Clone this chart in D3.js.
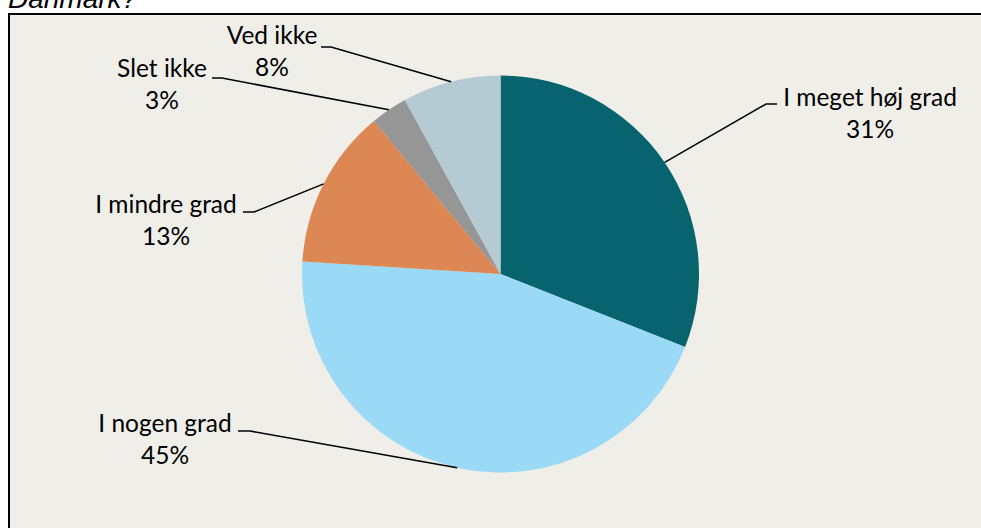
<!DOCTYPE html>
<html><head><meta charset="utf-8">
<script src="https://cdn.jsdelivr.net/npm/d3@7"></script>
<style>
html,body{margin:0;padding:0;background:#fff;}
svg{display:block;}
</style></head>
<body>
<svg id="chart" width="981" height="528"></svg>
<script>
// ---- data ----
const categories = ["I meget høj grad", "I nogen grad", "I mindre grad", "Slet ikke", "Ved ikke"];
const values = [31, 45, 13, 3, 8];
const valueLabels = ["31%", "45%", "13%", "3%", "8%"];
const colors = ["#07646f", "#9bdaf7", "#dd8755", "#969696", "#b4cbd3"];

// ---- layout (label anchor, elbow, horizontal end) ----
const labelLayout = [
  {tx: 870, ty: 106, elbow: [766, 104], end: [777, 104]},
  {tx: 165, ty: 432, elbow: [250, 431], end: [238, 431]},
  {tx: 166, ty: 213, elbow: [254, 212], end: [243, 212]},
  {tx: 162, ty: 77,  elbow: [222, 78],  end: [212, 78]},
  {tx: 272, ty: 44,  elbow: [331, 47],  end: [321, 47]}
];

const svg = d3.select("#chart");
const W = 981, H = 528;

// title (cropped at the top edge, as in the reference)
svg.append("text").attr("x", 8).attr("y", 8)
  .attr("font-family", "Liberation Sans, Arial, sans-serif")
  .attr("font-style", "italic").attr("font-size", 28).attr("fill", "#000")
  .text("Danmark?");

// chart frame
svg.append("rect").attr("x", 9).attr("y", 14).attr("width", W + 10).attr("height", H)
  .attr("fill", "#efeee8").attr("stroke", "#000").attr("stroke-width", 2);

const cx = 500.5, cy = 274, r = 198.5;
const g = svg.append("g").attr("transform", `translate(${cx},${cy})`);

const data = categories.map((c, i) => ({cat: c, value: values[i], lab: valueLabels[i], color: colors[i], lay: labelLayout[i]}));
const pie = d3.pie().value(d => d.value).sort(null);
const arc = d3.arc().innerRadius(0).outerRadius(r);
const arcs = pie(data);

g.selectAll("path.slice").data(arcs).enter().append("path")
  .attr("class", "slice")
  .attr("d", arc)
  .attr("fill", d => d.data.color);

// leader lines
svg.selectAll("polyline.leader").data(arcs).enter().append("polyline")
  .attr("class", "leader")
  .attr("fill", "none").attr("stroke", "#000").attr("stroke-width", 1.6)
  .attr("points", d => {
    const a = (d.startAngle + d.endAngle) / 2;
    const p = [cx + r * Math.sin(a), cy - r * Math.cos(a)];
    return [p, d.data.lay.elbow, d.data.lay.end].map(q => q.join(",")).join(" ");
  });

// labels
const labs = svg.selectAll("text.lab").data(arcs).enter().append("text")
  .attr("class", "lab")
  .attr("text-anchor", "middle")
  .attr("font-family", "Lato, 'Open Sans', sans-serif")
  .attr("font-size", 24.5).attr("fill", "#000");
labs.append("tspan").attr("x", d => d.data.lay.tx).attr("y", d => d.data.lay.ty).text(d => d.data.cat);
labs.append("tspan").attr("x", d => d.data.lay.tx).attr("y", d => d.data.lay.ty + 31.5).text(d => d.data.lab);
</script>
</body></html>
